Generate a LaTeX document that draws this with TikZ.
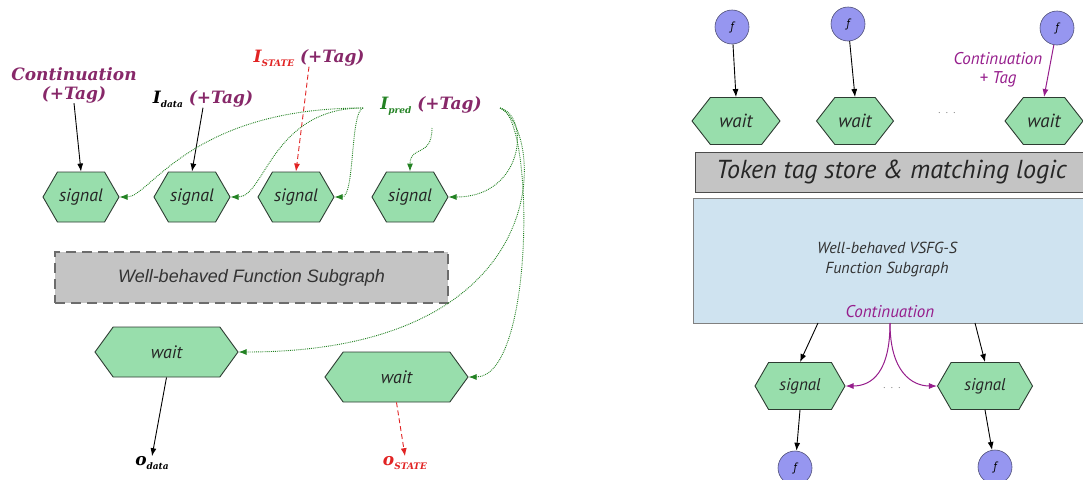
\documentclass[tikz,border=0pt]{standalone}
\usepackage{fontspec}
\setmainfont{PT Sans}
\newfontfamily\slabfont{DejaVu Serif}
\newfontfamily\arialfont{Liberation Sans}
\usetikzlibrary{shapes.symbols,arrows.meta}
\definecolor{hexfill}{RGB}{152,222,172}
\definecolor{hexdraw}{RGB}{45,60,50}
\definecolor{lblpurple}{RGB}{135,40,105}
\definecolor{rpurple}{RGB}{150,30,140}
\definecolor{lred}{RGB}{225,35,35}
\definecolor{lgreen}{RGB}{35,130,35}
\definecolor{fcirc}{RGB}{150,150,240}
\definecolor{fdraw}{RGB}{80,80,120}
\definecolor{graybox}{RGB}{196,196,196}
\definecolor{bluebox}{RGB}{207,227,240}
\newcommand{\sbs}[1]{\raisebox{-0.45ex}{\fontsize{9}{9}\selectfont #1}}
\tikzset{
  hexa/.style={shape=signal, signal to=east and west, signal pointer angle=120,
    draw=hexdraw, fill=hexfill, line width=0.9pt, inner sep=0pt,
    font=\itshape\fontsize{18}{18}\selectfont, text=black!85},
  rhexa/.style={hexa, font=\itshape\fontsize{17}{17}\selectfont},
  rwhexa/.style={hexa, font=\itshape\fontsize{19}{19}\selectfont},
  slab/.style={font=\slabfont\bfseries\itshape\fontsize{17}{19}\selectfont, inner sep=0pt, align=center},
  blk/.style={draw=black, line width=0.9pt, -{Latex[length=8pt,width=6pt]}},
  redd/.style={draw=lred, line width=0.9pt, dash pattern=on 5pt off 3pt, -{Latex[length=8pt,width=6pt]}},
  grn/.style={draw=lgreen, line width=0.9pt, densely dotted, -{Latex[length=8pt,width=6pt]}},
  purp/.style={draw=rpurple, line width=1pt, -{Latex[length=8pt,width=6pt]}},
  fnode/.style={circle, minimum size=34pt, inner sep=0pt, fill=fcirc, draw=fdraw, line width=0.6pt, font=\itshape\fontsize{12}{12}\selectfont},
  rtext/.style={font=\itshape\fontsize{17}{19}\selectfont, align=center, inner sep=0pt}
}
\begin{document}
\begin{tikzpicture}[x=1pt,y=-1pt]
\useasboundingbox (0,0) rectangle (1083,479);
\clip (0,0) rectangle (1083,479);
% ---------------- left diagram ----------------
\node[slab, text=lblpurple] (cont) at (74,85) {Continuation\\(+Tag)};
\node[slab] (idata) at (203,99) {I\sbs{data} \textcolor{lblpurple}{(+Tag)}};
\node[slab] (istate) at (309,58) {\textcolor{lred}{I\sbs{STATE}} \textcolor{lblpurple}{(+Tag)}};
\node[slab] (ipred) at (431,106) {\textcolor{lgreen}{I\sbs{pred}} \textcolor{lblpurple}{(+Tag)}};
\coordinate (pl) at (363,108);
\coordinate (pr) at (500,108);
\coordinate (pb) at (432,128);

\node[hexa, minimum width=76pt, minimum height=50pt] (h1) at (81,197) {signal};
\node[hexa, minimum width=76pt, minimum height=50pt] (h2) at (192,197) {signal};
\node[hexa, minimum width=76pt, minimum height=50pt] (h3) at (296,197) {signal};
\node[hexa, minimum width=76pt, minimum height=50pt] (h4) at (410,197) {signal};

\node[draw=gray!85!black, fill=graybox, line width=2pt, dash pattern=on 10pt off 6pt,
  minimum width=393pt, minimum height=51pt, inner sep=0pt,
  font=\arialfont\itshape\fontsize{18}{18}\selectfont, text=black!80] (fsub) at (251.5,277.5) {Well-behaved Function Subgraph};

\node[hexa, signal pointer angle=108, minimum width=143pt, minimum height=50pt] (w1) at (166.5,352) {wait};
\node[hexa, signal pointer angle=108, minimum width=143pt, minimum height=50pt] (w2) at (396.5,377) {wait};

\node[slab] (odata) at (152,463) {o\sbs{data}};
\node[slab, text=lred] (ostate) at (405,463) {o\sbs{STATE}};

\draw[blk] (cont.south) -- (h1.north);
\draw[blk] (idata.south) -- (h2.north);
\draw[redd] (istate.south) -- (h3.north);
\draw[grn] (pl) .. controls (190,108) and (150,197) .. (h1.east);
\draw[grn] (pl) .. controls (272,108) and (265,197) .. (h2.east);
\draw[grn] (pl) .. controls (350,112) and (355,197) .. (h3.east);
\draw[grn] (pb) .. controls (432,158) and (410,145) .. (h4.north);
\draw[grn] (pr) .. controls (530,115) and (525,197) .. (h4.east);
\draw[grn] (pr) .. controls (545,130) and (560,352) .. (w1.east);
\draw[grn] (pr) .. controls (535,115) and (535,377) .. (w2.east);
\draw[blk] (w1.south) -- (odata.north);
\draw[redd] (w2.south) -- (ostate.north);

% ---------------- right diagram ----------------
\node[fnode] (c1) at (732,27) {f};
\node[fnode] (c2) at (848,24) {f};
\node[fnode] (c3) at (1057,28) {f};
\node[rtext, text=rpurple] (clab) at (998,70) {Continuation\\+ Tag};

\node[rwhexa, signal pointer angle=104, minimum width=88pt, minimum height=47pt] (rw1) at (736,121) {wait};
\node[rwhexa, signal pointer angle=104, minimum width=77pt, minimum height=47pt] (rw2) at (855,121) {wait};
\node[rwhexa, signal pointer angle=104, minimum width=78pt, minimum height=47pt] (rw3) at (1044,121) {wait};
\node[text=gray, font=\fontsize{10}{10}\selectfont] (dots1) at (947,113) {.\ \ .\ \ .};

\node[draw=black!70, fill=graybox, line width=1pt, minimum width=392pt, minimum height=40pt, inner sep=0pt,
  font=\itshape\fontsize{26}{26}\selectfont, text=black!85, anchor=west] (tok) at (695,172) {Token tag store \& matching logic};

\node[draw=gray, fill=bluebox, line width=0.8pt, minimum width=394pt, minimum height=125pt, inner sep=0pt, anchor=north west] (vsfg) at (693,198) {};
\node[rtext, text=black!80, font=\itshape\fontsize{16}{20}\selectfont] (vlab) at (887,259) {Well-behaved VSFG-S\\Function Subgraph};
\node[rtext, text=rpurple] (rcont) at (890,312) {Continuation};
\coordinate (b1) at (818,323);
\coordinate (b2) at (975,323);
\coordinate (bc) at (890,323);

\node[rhexa, minimum width=90pt, minimum height=47pt] (rs1) at (800,386) {signal};
\node[rhexa, minimum width=95pt, minimum height=47pt] (rs2) at (985,386) {signal};
\node[text=gray, font=\fontsize{10}{10}\selectfont] (dots2) at (892,388) {.\ \ .\ \ .};

\node[fnode] (c4) at (795,468) {f};
\node[fnode] (c5) at (995,467) {f};

\draw[blk] (c1) -- (rw1.north);
\draw[blk] (c2) -- (rw2.north);
\draw[purp] (c3) -- (rw3.north);
\draw[blk] (b1) -- (rs1.north);
\draw[blk] (b2) -- (rs2.north);
\draw[purp] (bc) .. controls (890,372) and (872,386) .. (rs1.east);
\draw[purp] (bc) .. controls (890,372) and (912,386) .. (rs2.west);
\draw[blk] (rs1.south) -- (c4);
\draw[blk] (rs2.south) -- (c5);
\end{tikzpicture}
\end{document}
